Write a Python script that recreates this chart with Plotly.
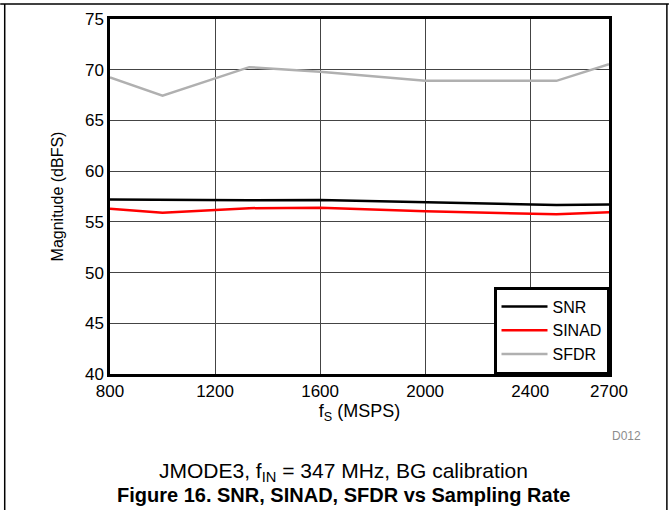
import plotly.graph_objects as go

# Data
fs_msps = [800, 1000, 1330, 1600, 2000, 2500, 2700]
snr = [57.2, 57.15, 57.12, 57.15, 56.9, 56.65, 56.7]
sinad = [56.3, 55.9, 56.35, 56.4, 56.05, 55.75, 55.95]
sfdr = [69.25, 67.45, 70.25, 69.8, 68.9, 68.9, 70.55]

x_ticks = [800, 1200, 1600, 2000, 2400, 2700]
y_ticks = [40, 45, 50, 55, 60, 65, 70, 75]

FONT = "Liberation Sans, Arial, Helvetica, sans-serif"

fig = go.Figure()
fig.add_trace(go.Scatter(x=fs_msps, y=snr, mode="lines", name="SNR",
                         line=dict(color="#000000", width=2.5)))
fig.add_trace(go.Scatter(x=fs_msps, y=sinad, mode="lines", name="SINAD",
                         line=dict(color="#ff0000", width=2.5)))
fig.add_trace(go.Scatter(x=fs_msps, y=sfdr, mode="lines", name="SFDR",
                         line=dict(color="#b0b0b0", width=2.5)))

fig.update_layout(
    width=669, height=510,
    margin=dict(l=110, r=60, t=19, b=136, autoexpand=False),
    paper_bgcolor="white", plot_bgcolor="white",
    font=dict(family=FONT, size=17, color="#000000"),
    showlegend=True,
    legend=dict(x=1, xanchor="right", y=0, yanchor="bottom",
                bgcolor="white", bordercolor="#000000", borderwidth=2.5,
                font=dict(size=16), tracegroupgap=0, itemwidth=46,
                traceorder="normal"),
    xaxis=dict(range=[800, 2700], tickvals=x_ticks,
               ticktext=[str(v) for v in x_ticks], automargin=False,
               showgrid=True, gridcolor="#444444", gridwidth=1,
               showline=True, linecolor="#000000", linewidth=2.5, mirror=True,
               zeroline=False, ticks="", ticklen=0,
               title=dict(text="f<sub>S</sub> (MSPS)", font=dict(size=18), standoff=5)),
    yaxis=dict(range=[40, 75], tickvals=y_ticks, automargin=False,
               showgrid=True, gridcolor="#444444", gridwidth=1,
               showline=True, linecolor="#000000", linewidth=2.5, mirror=True,
               zeroline=False, ticks="", ticklen=0,
               title=dict(text="Magnitude (dBFS)", font=dict(size=16), standoff=18)),
)

fig.add_annotation(text="D012", xref="paper", yref="paper", x=1.035, y=-0.175,
                   xanchor="center", yanchor="middle", showarrow=False,
                   font=dict(size=12, color="#8c8c8c"))
fig.add_annotation(text="JMODE3, f<sub>IN</sub> = 347 MHz, BG calibration",
                   xref="paper", yref="paper", x=0.467, y=-0.276,
                   xanchor="center", yanchor="middle", showarrow=False,
                   font=dict(size=21))
fig.add_annotation(text="<b>Figure 16. SNR, SINAD, SFDR vs Sampling Rate</b>",
                   xref="paper", yref="paper", x=0.467, y=-0.342,
                   xanchor="center", yanchor="middle", showarrow=False,
                   font=dict(size=20))

# page frame lines
fig.add_shape(type="line", xref="paper", yref="paper",
              x0=-0.22, x1=1.12, y0=1.042, y1=1.042,
              line=dict(color="#000000", width=1.5))
fig.add_shape(type="line", xref="paper", yref="paper",
              x0=-0.211, x1=-0.211, y0=1.042, y1=-0.4,
              line=dict(color="#000000", width=1.5))
fig.add_shape(type="line", xref="paper", yref="paper",
              x0=1.116, x1=1.116, y0=1.042, y1=-0.4,
              line=dict(color="#000000", width=1.5))

fig.write_html("out.html", config={"displayModeBar": False},
               post_script="document.body.style.margin='0';")
